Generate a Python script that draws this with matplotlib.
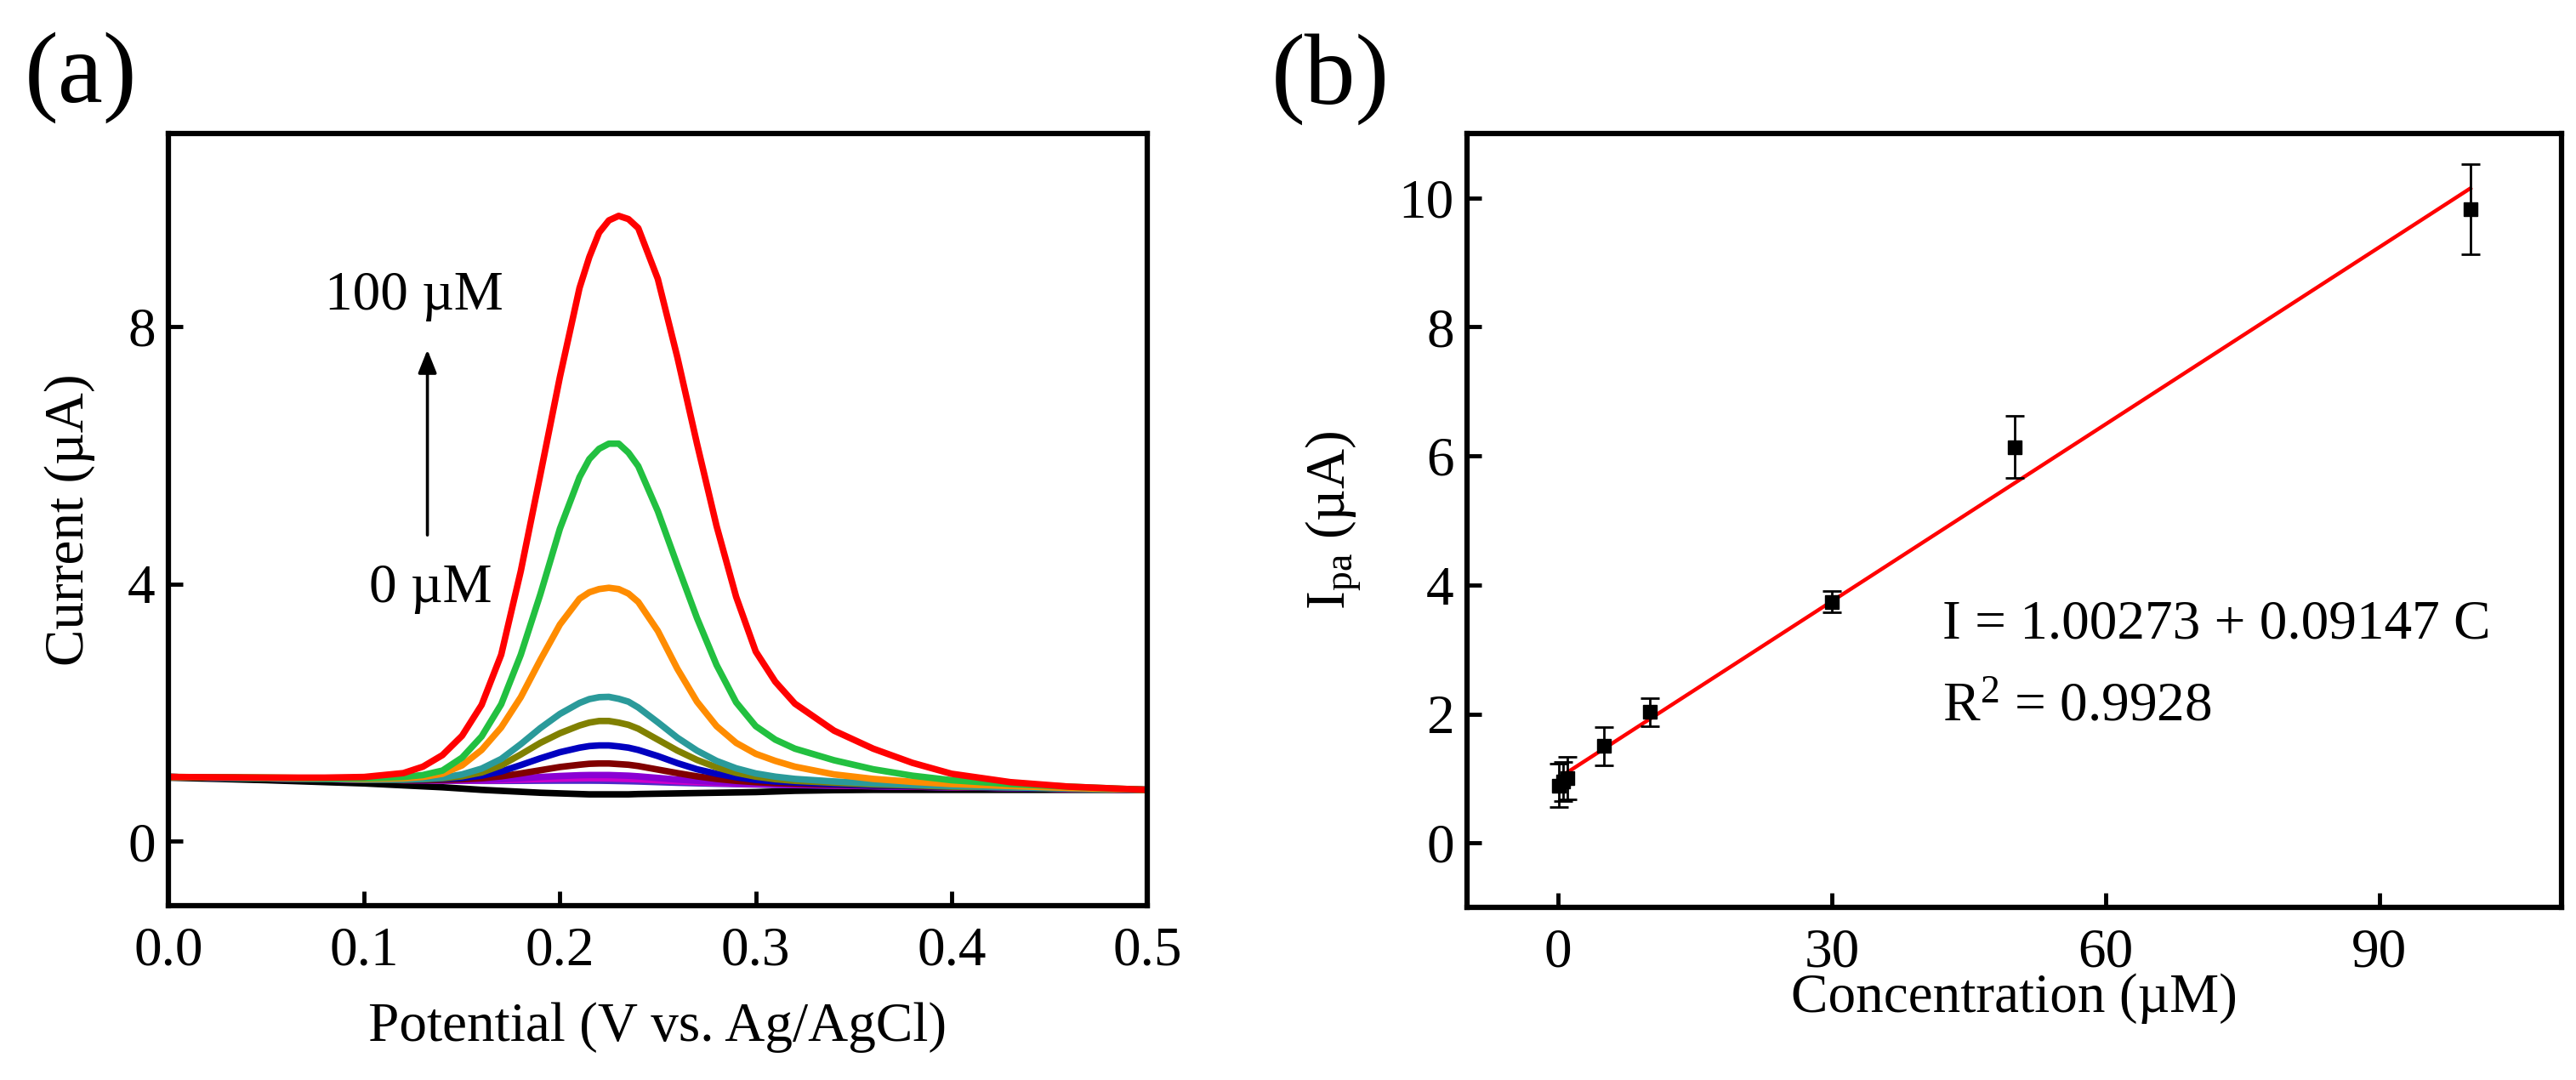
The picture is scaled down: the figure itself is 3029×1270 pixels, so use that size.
import matplotlib
matplotlib.use("Agg")
import matplotlib.pyplot as plt

plt.rcParams['font.family'] = ['Liberation Serif', 'DejaVu Serif']
plt.rcParams['mathtext.fontset'] = 'custom'
plt.rcParams['mathtext.rm'] = 'Liberation Serif'
plt.rcParams['mathtext.it'] = 'Liberation Serif:italic'

# ---------------- Panel (a) data: DPV curves ----------------
potential = [0.00, 0.05, 0.08, 0.10, 0.12, 0.13, 0.14, 0.15, 0.16, 0.17, 0.18, 0.19,
             0.20, 0.21, 0.215, 0.22, 0.225, 0.23, 0.235, 0.24, 0.25, 0.26, 0.27,
             0.28, 0.29, 0.30, 0.31, 0.32, 0.34, 0.36, 0.38, 0.40, 0.43, 0.46, 0.50]

cur_black = [0.99, 0.95, 0.92, 0.90, 0.87, 0.855, 0.84, 0.82, 0.80, 0.785, 0.77, 0.755,
             0.745, 0.735, 0.73, 0.73, 0.73, 0.73, 0.73, 0.735, 0.74, 0.745, 0.75,
             0.755, 0.76, 0.765, 0.775, 0.785, 0.795, 0.80, 0.80, 0.80, 0.80, 0.80, 0.80]
cur_indigo = [1.00, 0.98, 0.968, 0.96, 0.952, 0.948, 0.944, 0.941, 0.939, 0.939, 0.94, 0.942,
              0.943, 0.943, 0.943, 0.942, 0.94, 0.937, 0.934, 0.93, 0.92, 0.91, 0.902,
              0.895, 0.889, 0.883, 0.878, 0.874, 0.865, 0.857, 0.849, 0.84, 0.828, 0.816, 0.80]
cur_magenta = [1.00, 0.98, 0.968, 0.96, 0.952, 0.949, 0.946, 0.945, 0.946, 0.95, 0.958, 0.966,
               0.973, 0.978, 0.98, 0.979, 0.977, 0.973, 0.969, 0.963, 0.948, 0.932, 0.918,
               0.906, 0.896, 0.888, 0.882, 0.877, 0.868, 0.858, 0.85, 0.841, 0.829, 0.816, 0.80]
cur_purple = [1.00, 0.98, 0.968, 0.96, 0.952, 0.95, 0.948, 0.95, 0.955, 0.965, 0.98, 1.00,
              1.015, 1.027, 1.03, 1.03, 1.03, 1.025, 1.02, 1.01, 0.985, 0.96, 0.94,
              0.92, 0.906, 0.895, 0.887, 0.88, 0.87, 0.86, 0.85, 0.842, 0.83, 0.816, 0.80]
cur_maroon = [1.00, 0.98, 0.97, 0.96, 0.95, 0.95, 0.955, 0.965, 0.98, 1.01, 1.055, 1.105,
              1.155, 1.19, 1.205, 1.21, 1.21, 1.20, 1.19, 1.17, 1.115, 1.06, 1.01,
              0.97, 0.94, 0.92, 0.905, 0.895, 0.88, 0.865, 0.855, 0.845, 0.83, 0.816, 0.80]
cur_blue = [1.00, 0.98, 0.97, 0.96, 0.96, 0.96, 0.97, 0.985, 1.02, 1.085, 1.185, 1.29,
            1.385, 1.455, 1.48, 1.49, 1.49, 1.475, 1.455, 1.42, 1.325, 1.215, 1.12,
            1.05, 0.995, 0.955, 0.93, 0.915, 0.89, 0.87, 0.86, 0.85, 0.83, 0.82, 0.80]
cur_olive = [1.00, 0.98, 0.97, 0.96, 0.96, 0.965, 0.98, 1.01, 1.07, 1.18, 1.35, 1.53,
             1.68, 1.80, 1.845, 1.87, 1.87, 1.845, 1.81, 1.75, 1.58, 1.41, 1.265,
             1.15, 1.065, 1.005, 0.965, 0.94, 0.91, 0.885, 0.87, 0.85, 0.84, 0.82, 0.80]
cur_teal = [1.00, 0.98, 0.97, 0.96, 0.96, 0.97, 0.99, 1.04, 1.13, 1.28, 1.51, 1.76,
            1.98, 2.15, 2.21, 2.24, 2.245, 2.215, 2.17, 2.08, 1.85, 1.61, 1.41,
            1.25, 1.135, 1.055, 1.005, 0.97, 0.93, 0.90, 0.88, 0.86, 0.84, 0.82, 0.80]
cur_orange = [1.00, 0.99, 0.98, 0.97, 0.98, 1.00, 1.05, 1.18, 1.42, 1.77, 2.24, 2.82,
              3.37, 3.77, 3.87, 3.92, 3.94, 3.92, 3.85, 3.72, 3.27, 2.68, 2.17,
              1.79, 1.53, 1.36, 1.25, 1.16, 1.04, 0.97, 0.925, 0.89, 0.86, 0.83, 0.80]
cur_green = [1.00, 0.99, 0.98, 0.98, 1.00, 1.03, 1.10, 1.30, 1.63, 2.13, 2.90, 3.84,
             4.86, 5.66, 5.94, 6.10, 6.18, 6.18, 6.04, 5.83, 5.13, 4.29, 3.47,
             2.74, 2.16, 1.79, 1.58, 1.44, 1.26, 1.12, 1.02, 0.95, 0.89, 0.85, 0.80]
cur_red = [1.00, 0.99, 0.99, 1.00, 1.06, 1.16, 1.34, 1.64, 2.12, 2.90, 4.20, 5.70,
           7.22, 8.60, 9.08, 9.46, 9.65, 9.72, 9.67, 9.53, 8.74, 7.52, 6.18,
           4.90, 3.80, 2.95, 2.48, 2.14, 1.72, 1.44, 1.22, 1.05, 0.92, 0.85, 0.80]

curves = [cur_black, cur_indigo, cur_magenta, cur_purple, cur_maroon, cur_blue,
          cur_olive, cur_teal, cur_orange, cur_green, cur_red]
curve_colors = ['#000000', '#4b2ac8', '#cc00cc', '#8a00d4', '#800000', '#0000c0',
                '#808000', '#2a9a9a', '#ff8c00', '#22c040', '#ff0000']

a_xticks = [0.0, 0.1, 0.2, 0.3, 0.4, 0.5]
a_yticks = [0, 4, 8]

# ---------------- Panel (b) data: calibration ----------------
conc = [0.1, 0.5, 1, 5, 10, 30, 50, 100]
ipa = [0.89, 0.95, 1.01, 1.50, 2.03, 3.74, 6.14, 9.83]
ipa_err = [0.34, 0.30, 0.33, 0.30, 0.22, 0.16, 0.48, 0.70]
fit_intercept = 1.00273
fit_slope = 0.09147
fit_range = [1, 100]
b_xticks = [0, 30, 60, 90]
b_yticks = [0, 2, 4, 6, 8, 10]

FS = 47

fig = plt.figure(figsize=(30.29, 12.70), dpi=100)
axa = fig.add_axes([0.06537, 0.16142, 0.38000, 0.71496])
axb = fig.add_axes([0.56950, 0.15984, 0.42489, 0.71654])

for ax in (axa, axb):
    for s in ax.spines.values():
        s.set_linewidth(4.5)
    ax.tick_params(direction='in', length=12, width=3.5, labelsize=FS,
                   top=False, right=False)
    ax.tick_params(axis='x', pad=17)
    ax.tick_params(axis='y', pad=11)

# Panel (a)
for y, c in zip(curves, curve_colors):
    axa.plot(potential, y, color=c, lw=5.5, solid_joinstyle='round',
             solid_capstyle='round')
axa.set_xlim(0, 0.5)
axa.set_ylim(-1, 11)
axa.set_xticks(a_xticks)
axa.set_xticklabels([f"{v:.1f}" for v in a_xticks])
axa.set_yticks(a_yticks)
axa.set_xlabel("Potential (V vs. Ag/AgCl)", fontsize=FS)
axa.set_ylabel("Current (\u00b5A)", fontsize=FS)
axa.xaxis.set_label_coords(0.5, -0.125)
axa.yaxis.set_label_coords(-0.075, 0.5)
axa.text(0.080, 8.26, "100 \u00b5M", fontsize=FS, ha='left', va='baseline')
axa.text(0.1023, 3.72, "0 \u00b5M", fontsize=FS, ha='left', va='baseline')
axa.annotate('', xy=(0.1323, 7.64), xytext=(0.1323, 4.76),
             arrowprops=dict(arrowstyle='-|>,head_length=0.55,head_width=0.22',
                             lw=2.6, color='k', mutation_scale=30,
                             shrinkA=0, shrinkB=0))

# Panel (b)
fit_y = [fit_intercept + fit_slope * c for c in fit_range]
axb.plot(fit_range, fit_y, color='#ff0000', lw=3.2, zorder=2)
axb.errorbar(conc, ipa, yerr=ipa_err, fmt='s', color='k', ms=12,
             capsize=8, elinewidth=2.0, capthick=2.0, zorder=3)
axb.set_xlim(-10, 110)
axb.set_ylim(-1, 11)
axb.set_xticks(b_xticks)
axb.set_yticks(b_yticks)
axb.set_xlabel("Concentration (\u00b5M)", fontsize=FS)
axb.set_ylabel("I$_{\\mathrm{pa}}$ (\u00b5A)", fontsize=FS)
axb.xaxis.set_label_coords(0.5, -0.085)
axb.yaxis.set_label_coords(-0.095, 0.5)
axb.text(42.1, 3.18, "I = 1.00273 + 0.09147 C", fontsize=FS, ha='left', va='baseline')
axb.text(42.1, 1.90, "R$^{2}$ = 0.9928", fontsize=FS, ha='left', va='baseline')

fig.text(0.0096, 0.928, "(a)", fontsize=86, ha='left', va='center')
fig.text(0.4936, 0.927, "(b)", fontsize=86, ha='left', va='center')

fig.savefig("out.png", dpi=100)
